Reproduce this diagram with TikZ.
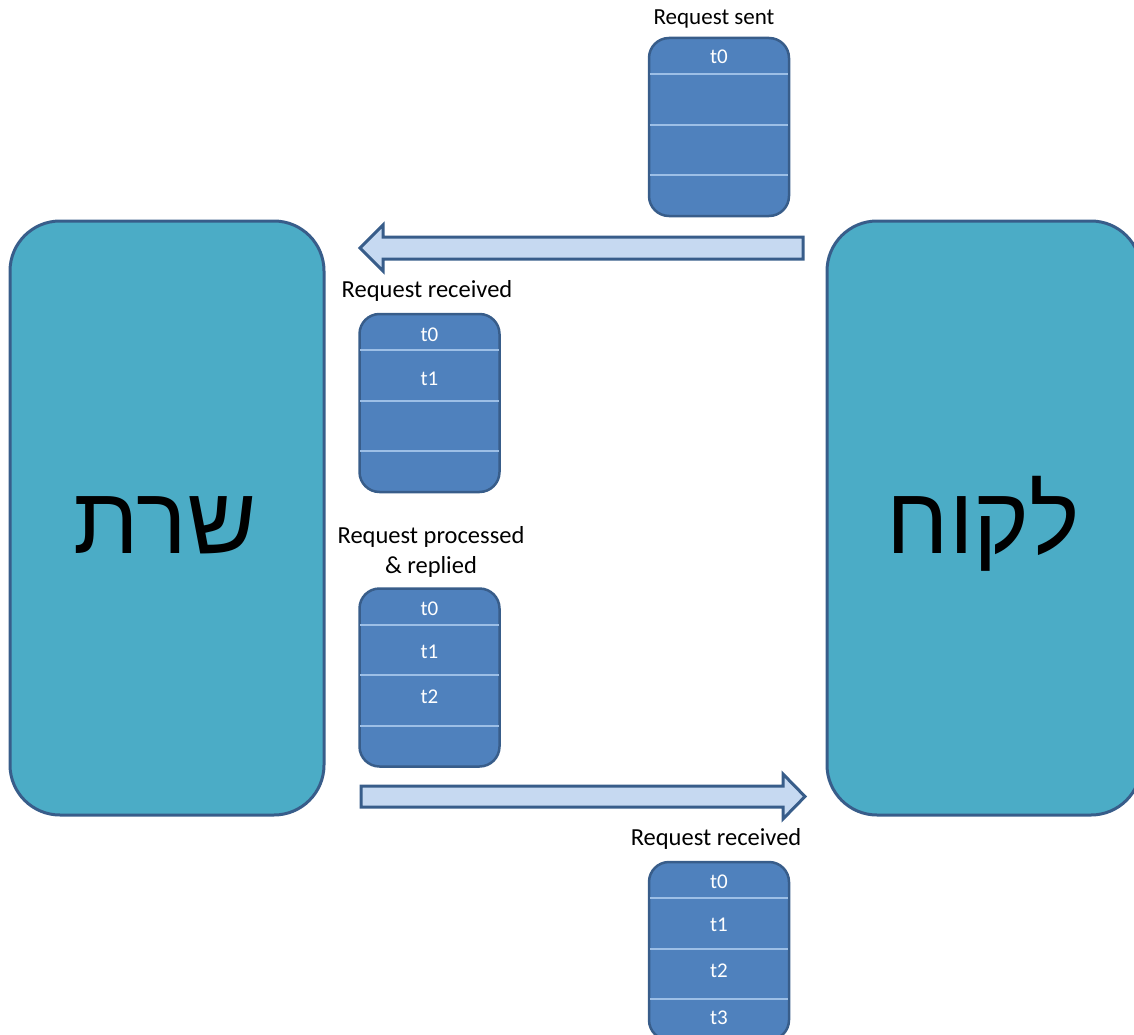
\documentclass[tikz,border=0pt]{standalone}
\usepackage{fontspec}
\setmainfont{Carlito}
\newfontfamily\hebfont[Script=Hebrew]{Liberation Sans}
\TeXXeTstate=1
\usetikzlibrary{calc}
\definecolor{bigfill}{HTML}{4BACC6}
\definecolor{edgeblue}{HTML}{385D8A}
\definecolor{boxfill}{HTML}{4F81BD}
\definecolor{rowline}{HTML}{9DBFE6}
\definecolor{arrowfill}{HTML}{C6D9F1}
\tikzset{
  bigbox/.style={draw=edgeblue, fill=bigfill, line width=3pt, rounded corners=50pt,
    minimum width=314pt, minimum height=594pt, inner sep=0pt},
  bigtext/.style={anchor=base, inner sep=0pt, font=\hebfont\fontsize{95}{100}\selectfont},
  stackbox/.style={draw=edgeblue, fill=boxfill, line width=2.5pt, rounded corners=20pt,
    minimum width=140pt, minimum height=178pt, inner sep=0pt},
  rowsep/.style={draw=rowline, line width=2pt},
  tlabel/.style={text=white, font=\fontsize{21}{22}\selectfont, inner sep=0pt},
  caption/.style={text=black, font=\fontsize{24.5}{30}\selectfont, align=center, inner sep=0pt},
  blockarrow/.style={draw=edgeblue, fill=arrowfill, line width=3pt, line join=miter}
}
\begin{document}
\begin{tikzpicture}[x=1pt,y=-1pt]
\useasboundingbox (0,0) rectangle (1134,1035);
\clip (0,0) rectangle (1134,1035);

% big boxes
\node[bigbox] (server) at (167,518) {};
\node[bigbox] (client) at (984,518) {};
\node[bigtext] (servertext) at (165,553) {\beginR שרת\endR};
\node[bigtext] (clienttext) at (983,553) {\beginR לקוח\endR};

% block arrows
\draw[blockarrow] (803,237) -- (383,237) -- (383,225) -- (360,248) -- (383,271) -- (383,259) -- (803,259) -- cycle;
\draw[blockarrow] (361,786) -- (783,786) -- (783,774) -- (805,796.5) -- (783,819) -- (783,807) -- (361,807) -- cycle;

% stacks
\node[stackbox] (b1) at (719,127) {};
\node[stackbox] (b2) at (429.5,403) {};
\node[stackbox] (b3) at (429.5,677.5) {};
\node[stackbox] (b4) at (719,951) {};

\foreach \b in {b1,b2,b3,b4}{
  \foreach \d in {37.5,88,138.5}{
    \draw[rowsep] ($(\b.north west)+(2,\d)$) -- ($(\b.north east)+(-2,\d)$);
  }
}

% row labels
\node[tlabel] (b1t0) at ($(b1.north)+(0,20)$) {t0};

\node[tlabel] (b2t0) at ($(b2.north)+(0,22)$) {t0};
\node[tlabel] (b2t1) at ($(b2.north)+(0,66)$) {t1};

\node[tlabel] (b3t0) at ($(b3.north)+(0,22)$) {t0};
\node[tlabel] (b3t1) at ($(b3.north)+(0,65)$) {t1};
\node[tlabel] (b3t2) at ($(b3.north)+(0,110)$) {t2};

\node[tlabel] (b4t0) at ($(b4.north)+(0,21)$) {t0};
\node[tlabel] (b4t1) at ($(b4.north)+(0,64)$) {t1};
\node[tlabel] (b4t2) at ($(b4.north)+(0,110)$) {t2};
\node[tlabel] (b4t3) at ($(b4.north)+(0,157)$) {t3};

% captions
\node[caption, font=\fontsize{23}{30}\selectfont] (c1) at (714,19) {Request sent};
\node[caption] (c2) at (427,291) {Request received};
\node[caption] (c3) at (431,552) {Request processed\\\& replied};
\node[caption] (c4) at (716,839) {Request received};
\end{tikzpicture}
\end{document}
